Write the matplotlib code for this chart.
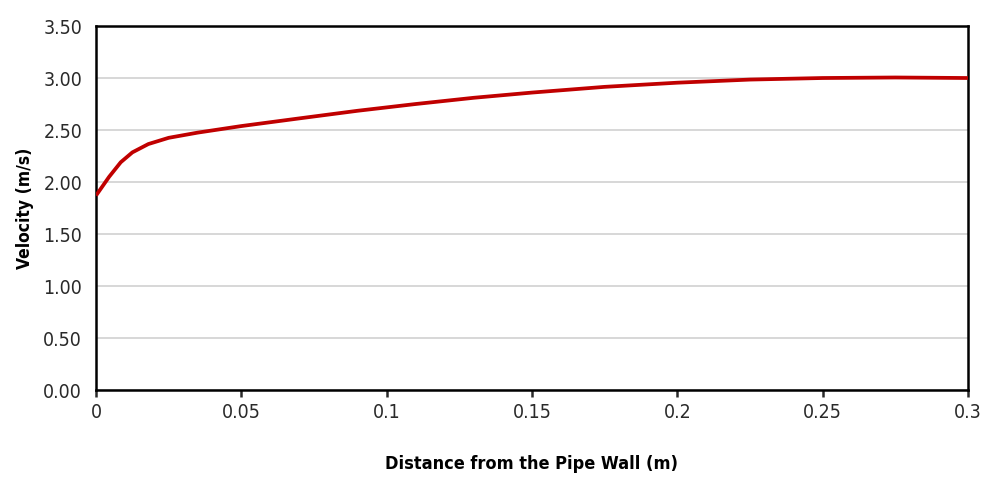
import matplotlib
matplotlib.use('Agg')
import matplotlib.pyplot as plt
import numpy as np

# Velocity profile
distance = [0, 0.0045, 0.0085, 0.0125, 0.018, 0.025, 0.035, 0.05, 0.07, 0.09,
            0.11, 0.13, 0.15, 0.175, 0.2, 0.225, 0.25, 0.275, 0.3]
velocity = [1.87, 2.05, 2.19, 2.285, 2.365, 2.425, 2.475, 2.538, 2.612, 2.685,
            2.75, 2.81, 2.86, 2.915, 2.955, 2.985, 3.00, 3.005, 3.00]

x_ticks = [0, 0.05, 0.1, 0.15, 0.2, 0.25, 0.3]
x_tick_labels = ['0', '0.05', '0.1', '0.15', '0.2', '0.25', '0.3']
y_ticks = [0, 0.5, 1.0, 1.5, 2.0, 2.5, 3.0, 3.5]

plt.rcParams['font.family'] = ['DejaVu Sans']
plt.rcParams['font.stretch'] = 'condensed'

fig = plt.figure(figsize=(9.85, 4.8), dpi=100)
ax = fig.add_axes([0.0975, 0.1875, 0.8852, 0.7583])

ax.plot(distance, velocity, color='#c00000', linewidth=2.7,
        solid_joinstyle='round', solid_capstyle='butt', zorder=3)

ax.set_xlim(0, 0.3)
ax.set_ylim(0, 3.5)
ax.set_xticks(x_ticks)
ax.set_xticklabels(x_tick_labels)
ax.set_yticks(y_ticks)
ax.set_yticklabels([f'{v:.2f}' for v in y_ticks])

# Grid and frame
ax.grid(True, axis='y', color='#d4d4d4', linewidth=1.3)
ax.set_axisbelow(True)
for spine in ax.spines.values():
    spine.set_color('black')
    spine.set_linewidth(1.8)

ax.tick_params(axis='x', direction='out', length=5, width=1.8, pad=4, labelsize=14, colors='#2a2a2a')
ax.tick_params(axis='y', length=0, pad=10, labelsize=14, colors='#2a2a2a')

ax.set_xlabel('Distance from the Pipe Wall (m)', fontsize=13, fontweight='bold', labelpad=24)
ax.set_ylabel('Velocity (m/s)', fontsize=12.5, fontweight='bold', labelpad=7)

fig.savefig('out.png', dpi=100)
